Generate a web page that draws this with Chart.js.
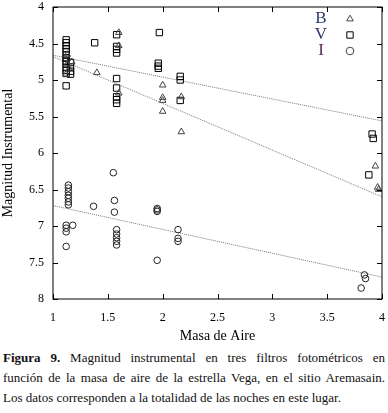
<!DOCTYPE html>
<html>
<head>
<meta charset="utf-8">
<script src="https://cdn.jsdelivr.net/npm/chart.js@4"></script>
<style>
  body { margin: 0; background: #fff; }
  #wrap { position: relative; width: 388px; height: 345px; }
  #caption { font-family: "Liberation Serif", serif; font-size: 13px; line-height: 20px; margin: 3px 3px 0 3px; color: #111; }
  #caption div { text-align: justify; text-align-last: justify; }
  #caption div.last { text-align-last: left; }
</style>
</head>
<body>
<div id="wrap"><canvas id="chart"></canvas></div>
<div id="caption">
  <div><b>Figura 9.</b> Magnitud instrumental en tres filtros fotométricos en</div>
  <div>función de la masa de aire de la estrella Vega, en el sitio Aremasain.</div>
  <div class="last">Los datos corresponden a la totalidad de las noches en este lugar.</div>
</div>
<script>
// masa de aire / magnitud, filtro B (triangulos)
var bAir = [1.13, 1.13, 1.15, 1.12, 1.17, 1.4, 1.6, 1.6, 1.6, 2.0, 2.0, 2.0, 2.0, 2.17, 2.17, 3.94, 3.96, 3.97];
var bMag = [4.65, 4.78, 4.85, 4.92, 4.75, 4.9, 4.35, 4.53, 5.18, 5.07, 5.24, 5.28, 5.43, 5.23, 5.71, 6.18, 6.47, 6.5];
// filtro V (cuadrados)
var vAir = [1.12, 1.12, 1.12, 1.12, 1.12, 1.12, 1.12, 1.12, 1.12, 1.12, 1.12, 1.12, 1.12,
            1.16, 1.16, 1.16, 1.16, 1.38,
            1.58, 1.58, 1.58, 1.58, 1.58, 1.58, 1.58, 1.58, 1.58,
            1.97, 1.96, 1.96, 1.96, 2.16, 2.16, 2.16, 3.91, 3.92, 3.88];
var vMag = [4.45, 4.49, 4.53, 4.57, 4.61, 4.66, 4.7, 4.74, 4.78, 4.83, 4.87, 4.91, 5.08,
            4.76, 4.82, 4.88, 4.92, 4.49,
            4.38, 4.54, 4.58, 4.63, 4.98, 5.11, 5.23, 5.27, 5.32,
            4.35, 4.77, 4.81, 4.84, 4.95, 5.0, 5.28, 5.74, 5.8, 6.3];
// filtro I (circulos)
var iAir = [1.14, 1.14, 1.14, 1.14, 1.14, 1.14, 1.14, 1.12, 1.12, 1.12, 1.12, 1.18, 1.37,
            1.55, 1.56, 1.56, 1.58, 1.58, 1.58, 1.58, 1.58,
            1.95, 1.95, 1.95, 1.95, 2.14, 2.14, 2.14, 3.84, 3.85, 3.81];
var iMag = [6.44, 6.48, 6.53, 6.58, 6.62, 6.67, 6.71, 6.99, 7.03, 7.08, 7.28, 6.99, 6.73,
            6.27, 6.65, 6.81, 7.05, 7.11, 7.16, 7.21, 7.26,
            6.76, 6.78, 6.8, 7.47, 7.05, 7.17, 7.21, 7.67, 7.72, 7.85];
// rectas de ajuste
var fitAir = [1, 4];
var fitB = [4.68, 6.6];
var fitV = [4.66, 5.56];
var fitI = [6.72, 7.70];
var xTicks = [1, 1.5, 2, 2.5, 3, 3.5, 4];
var yTicks = [4, 4.5, 5, 5.5, 6, 6.5, 7, 7.5, 8];
var legendLabels = ['B', 'V', 'I'];
var legendStyles = ['triangle', 'rect', 'circle'];

function pts(xs, ys) {
    return xs.map(function (x, i) { return {x: x, y: ys[i]}; });
}

function fitLine(ys) {
    return {
        type: 'line',
        data: pts(fitAir, ys),
        borderColor: '#777',
        borderWidth: 1,
        borderDash: [1, 1],
        pointRadius: 0,
        fill: false
    };
}

var serif = '"Liberation Serif", "Times New Roman", serif';

var framePlugin = {
    id: 'frame',
    afterDraw: function (chart) {
        var ctx = chart.ctx;
        var a = chart.chartArea;
        var sx = chart.scales.x, sy = chart.scales.y;
        ctx.save();
        ctx.strokeStyle = '#000';
        ctx.lineWidth = 1;
        ctx.strokeRect(a.left, a.top, a.right - a.left, a.bottom - a.top);
        ctx.beginPath();
        xTicks.forEach(function (v) {
            var px = Math.round(sx.getPixelForValue(v)) + 0.5;
            ctx.moveTo(px, a.bottom); ctx.lineTo(px, a.bottom - 5);
            ctx.moveTo(px, a.top); ctx.lineTo(px, a.top + 5);
        });
        yTicks.forEach(function (v) {
            var py = Math.round(sy.getPixelForValue(v)) + 0.5;
            ctx.moveTo(a.left, py); ctx.lineTo(a.left + 5, py);
            ctx.moveTo(a.right, py); ctx.lineTo(a.right - 5, py);
        });
        ctx.stroke();

        // leyenda
        var colors = ['#2d3a6b', '#2d3a6b', '#5a2a5a'];
        ctx.font = '17px ' + serif;
        ctx.textAlign = 'center';
        ctx.textBaseline = 'middle';
        legendLabels.forEach(function (t, i) {
            var y = a.top + 12 + i * 16;
            ctx.fillStyle = colors[i];
            ctx.fillText(t, a.right - 61, y);
            ctx.strokeStyle = i === 1 ? '#000' : '#444';
            ctx.fillStyle = 'rgba(0,0,0,0)';
            Chart.helpers.drawPoint(ctx, {pointStyle: legendStyles[i], radius: i === 1 ? 4.5 : 3.8, borderWidth: 1}, a.right - 32, y);
        });
        ctx.restore();
    }
};

var ctx = document.getElementById('chart').getContext('2d');
var myChart = new Chart(ctx, {
    data: {
        datasets: [{
            type: 'scatter',
            label: 'B',
            data: pts(bAir, bMag),
            pointStyle: 'triangle',
            pointRadius: 3.8,
            borderColor: '#444',
            backgroundColor: 'rgba(0,0,0,0)',
            borderWidth: 1
        }, {
            type: 'scatter',
            label: 'V',
            data: pts(vAir, vMag),
            pointStyle: 'rect',
            pointRadius: 4.5,
            borderColor: '#000',
            backgroundColor: 'rgba(0,0,0,0)',
            borderWidth: 1
        }, {
            type: 'scatter',
            label: 'I',
            data: pts(iAir, iMag),
            pointStyle: 'circle',
            pointRadius: 3.3,
            borderColor: '#222',
            backgroundColor: 'rgba(0,0,0,0)',
            borderWidth: 1
        },
        fitLine(fitB), fitLine(fitV), fitLine(fitI)
        ]
    },
    options: {
        responsive: true,
        maintainAspectRatio: false,
        animation: false,
        layout: { padding: { top: 7, right: 6, left: 0, bottom: 0 } },
        plugins: { legend: { display: false }, tooltip: { enabled: false } },
        scales: {
            x: {
                type: 'linear',
                min: 1,
                max: 4,
                afterFit: function (s) { s.height = 46; s.paddingLeft = 0; s.paddingRight = 0; },
                afterBuildTicks: function (s) { s.ticks = xTicks.map(function (v) { return {value: v}; }); },
                grid: { display: false, drawTicks: false },
                border: { display: false },
                ticks: {
                    color: '#000', padding: 12, font: { family: serif, size: 12 },
                    callback: function (value) { return String(value); }
                },
                title: { display: true, text: 'Masa de Aire', color: '#000', padding: { top: 0, bottom: 0 }, font: { family: serif, size: 14 } }
            },
            y: {
                type: 'linear',
                min: 4,
                max: 8,
                reverse: true,
                afterFit: function (s) { s.width = 53; s.paddingTop = 0; s.paddingBottom = 0; },
                afterBuildTicks: function (s) { s.ticks = yTicks.map(function (v) { return {value: v}; }); },
                grid: { display: false, drawTicks: false },
                border: { display: false },
                ticks: {
                    color: '#000', padding: 9, font: { family: serif, size: 12 },
                    callback: function (value) { return String(value); }
                },
                title: { display: true, text: 'Magnitud Instrumental', color: '#000', padding: 0, font: { family: serif, size: 14 } }
            }
        }
    },
    plugins: [framePlugin]
});
</script>
</body>
</html>
